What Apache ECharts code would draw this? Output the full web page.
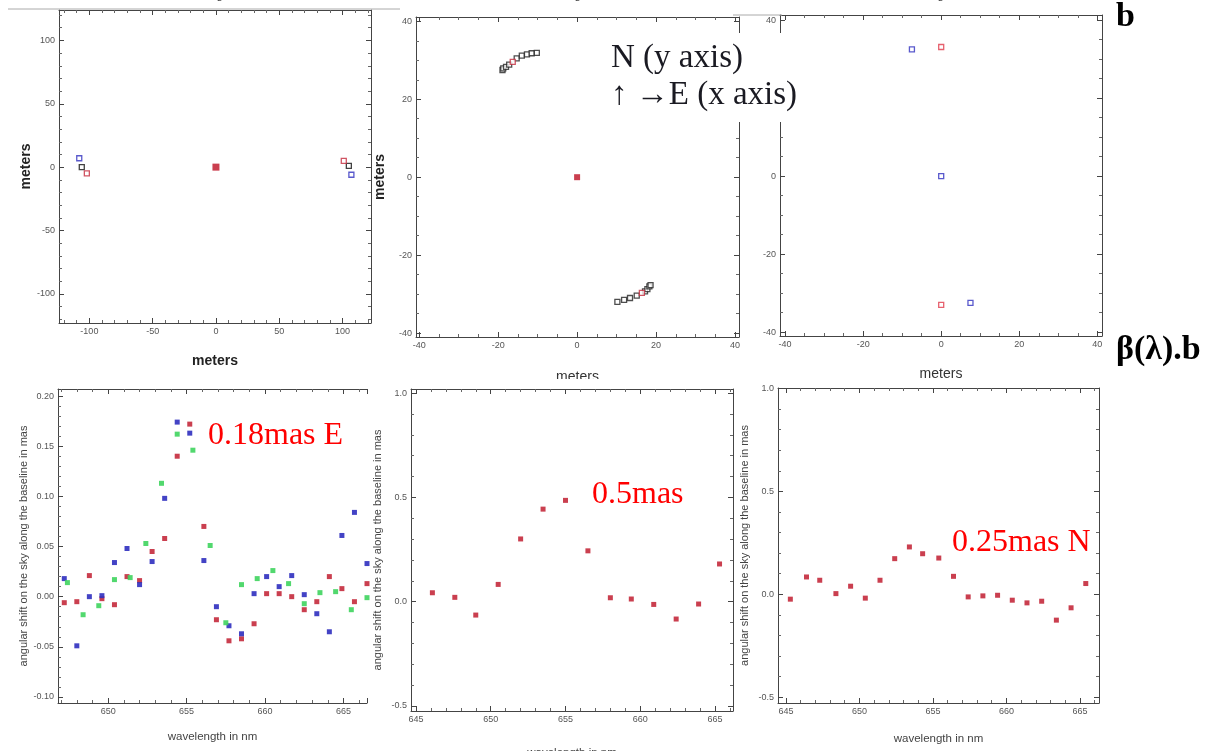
<!DOCTYPE html>
<html>
<head>
<meta charset="utf-8">
<script src="https://cdn.jsdelivr.net/npm/echarts@6/dist/echarts.min.js"></script>
<style>
  html, body { margin: 0; padding: 0; background: #fff; }
  #chart { width: 1210px; height: 751px; }
</style>
</head>
<body>
<div id="chart"></div>
<script>
// top row: baseline positions in meters
const p1Black = [[-106, 0], [105, 1]];
const p1Red = [[-102, -5], [101, 5]];
const p1Blue = [[-108, 7], [107, -6]];
const p1Center = [[0, 0]];

const p2Black = [[-18.9, 27.5], [-18.7, 27.9], [-18.0, 28.3], [-17.2, 28.9], [-15.3, 30.5], [-14.0, 31.2], [-12.7, 31.5], [-11.5, 31.8], [-10.2, 31.9],
  [10.2, -32.0], [11.9, -31.5], [13.4, -31.0], [15.1, -30.4], [17.2, -29.3], [17.8, -28.7], [18.3, -28.0], [18.6, -27.7]];
const p2Red = [[-16.3, 29.6], [16.4, -29.7]];
const p2Center = [[0, 0]];

const p3Red = [[0, 33.1], [0, -33.0]];
const p3Blue = [[-7.5, 32.5], [0, 0], [7.5, -32.5]];

// bottom row: angular shift vs wavelength
const p4Wave = [647.2, 648.0, 648.8, 649.6, 650.4, 651.2, 652.0, 652.8, 653.6, 654.4, 655.2, 656.1, 656.9,
  657.7, 658.5, 659.3, 660.1, 660.9, 661.7, 662.5, 663.3, 664.1, 664.9, 665.7, 666.5];
const p4Red = [-0.006, -0.005, 0.021, -0.002, -0.008, 0.020, 0.016, 0.045, 0.058, 0.140, 0.172, 0.070, -0.023,
  -0.044, -0.042, -0.027, 0.003, 0.003, 0.000, -0.013, -0.005, 0.020, 0.008, -0.005, 0.013];
const p4Blue = [0.018, -0.049, 0.000, 0.001, 0.034, 0.048, 0.012, 0.035, 0.098, 0.174, 0.163, 0.036, -0.010,
  -0.029, -0.037, 0.003, 0.020, 0.010, 0.021, 0.002, -0.017, -0.035, 0.061, 0.084, 0.033];
const p4GreenWave = [647.4, 648.4, 649.4, 650.4, 651.4, 652.4, 653.4, 654.4, 655.4, 656.5, 657.5, 658.5, 659.5,
  660.5, 661.5, 662.5, 663.5, 664.5, 665.5, 666.5];
const p4Green = [0.014, -0.018, -0.009, 0.017, 0.019, 0.053, 0.113, 0.162, 0.146, 0.051, -0.026, 0.012, 0.018,
  0.026, 0.013, -0.007, 0.004, 0.005, -0.013, -0.001];

const p5Wave = [646.1, 647.6, 649.0, 650.5, 652.0, 653.5, 655.0, 656.5, 658.0, 659.4, 660.9, 662.4, 663.9, 665.3];
const p5Shift = [0.043, 0.021, -0.064, 0.083, 0.301, 0.444, 0.486, 0.244, 0.019, 0.013, -0.013, -0.083, -0.011, 0.181];

const p6Wave = [645.3, 646.4, 647.3, 648.4, 649.4, 650.4, 651.4, 652.4, 653.4, 654.3, 655.4, 656.4, 657.4, 658.4,
  659.4, 660.4, 661.4, 662.4, 663.4, 664.4, 665.4];
const p6Shift = [-0.024, 0.084, 0.068, 0.003, 0.039, -0.019, 0.068, 0.173, 0.230, 0.197, 0.176, 0.087, -0.013, -0.008,
  -0.005, -0.029, -0.042, -0.034, -0.126, -0.066, 0.052];

const RED = '#c42a3c';
const BLUE = '#2f2fbf';
const GREEN = '#3fd45e';
const SANS = 'Liberation Sans';
const SERIF = 'Liberation Serif';

const zip = (xs, ys) => xs.map((x, i) => [x, ys[i]]);

const grids = [
  { left: 59, top: 10, width: 312, height: 313 },
  { left: 416, top: 17, width: 323, height: 320 },
  { left: 780, top: 15, width: 322, height: 321 },
  { left: 58, top: 389, width: 309, height: 314 },
  { left: 411, top: 389, width: 322, height: 322 },
  { left: 778, top: 388, width: 321, height: 315 }
];

const xAxes = [];
const yAxes = [];

function baseAxis(g, min, max, pos, minor, fmt, labelShow) {
  return {
    type: 'value', gridIndex: g, min: min, max: max, position: pos,
    splitNumber: 5,
    axisLine: { show: true, onZero: false, lineStyle: { color: '#444', width: 1 } },
    axisTick: { show: true, inside: true, length: 5, lineStyle: { color: '#444' } },
    minorTick: { show: true, splitNumber: minor, length: 3, lineStyle: { color: '#666' } },
    splitLine: { show: false },
    axisLabel: {
      show: labelShow, fontSize: 9, color: '#555', fontFamily: SANS, margin: 4,
      showMinLabel: false, showMaxLabel: false, formatter: fmt
    }
  };
}

// every panel is a Mathematica-like frame: labelled bottom/left axes plus tick-only top/right
function addFrame(g, xr, yr, o) {
  const xb = baseAxis(g, xr[0], xr[1], 'bottom', o.xMinor, o.xFmt, true);
  const xt = baseAxis(g, xr[0], xr[1], 'top', o.xMinor, o.xFmt, false);
  if (o.xSplit) { xb.splitNumber = o.xSplit; xt.splitNumber = o.xSplit; }
  xb.name = o.xName;
  xb.nameLocation = 'middle';
  xb.nameGap = o.xGap;
  xb.nameTextStyle = o.xNameStyle;
  const yl = baseAxis(g, yr[0], yr[1], 'left', o.yMinor, o.yFmt, true);
  const yrAx = baseAxis(g, yr[0], yr[1], 'right', o.yMinor, o.yFmt, false);
  if (o.ySplit) { yl.splitNumber = o.ySplit; yrAx.splitNumber = o.ySplit; }
  yl.name = o.yName;
  yl.nameLocation = 'middle';
  yl.nameGap = o.yGap;
  yl.nameTextStyle = o.yNameStyle;
  if (o.noRight) {
    yrAx.axisLine.show = false;
    yrAx.axisTick.show = false;
    yrAx.minorTick.show = false;
  }
  const xi = xAxes.length;
  const yi = yAxes.length;
  xAxes.push(xb, xt);
  yAxes.push(yl, yrAx);
  return { xi: xi, yi: yi };
}

const intFmt = v => String(Math.round(v));
const metersBold = { fontSize: 14, fontWeight: 'bold', color: '#222', fontFamily: SANS };
const metersPlain = { fontSize: 14, color: '#333', fontFamily: SANS };
const waveStyle = { fontSize: 11.5, color: '#444', fontFamily: SANS };
const shiftStyle = { fontSize: 11, color: '#444', fontFamily: SANS };
const shiftName = 'angular shift on the sky along the baseline in mas';

const f1 = addFrame(0, [-124, 122.5], [-123, 124], {
  xMinor: 5, yMinor: 5, xFmt: intFmt, yFmt: intFmt,
  xName: 'meters', xGap: 31, xNameStyle: metersBold,
  yName: 'meters', yGap: 26, yNameStyle: metersBold
});
const f2 = addFrame(1, [-40.8, 41], [-41, 41.1], {
  xMinor: 4, yMinor: 4, xFmt: intFmt, yFmt: intFmt,
  xName: 'meters', xGap: 33, xNameStyle: metersPlain,
  yName: 'meters', yGap: 29, yNameStyle: metersBold
});
const f3 = addFrame(2, [-41.3, 41.2], [-41, 41.3], {
  xMinor: 4, yMinor: 4, xFmt: intFmt, yFmt: intFmt,
  xName: 'meters', xGap: 31, xNameStyle: metersPlain,
  yName: '', yGap: 30, yNameStyle: metersPlain
});
const f4 = addFrame(3, [646.8, 666.5], [-0.106, 0.207], {
  xMinor: 5, yMinor: 5, xFmt: intFmt, yFmt: v => v.toFixed(2), xSplit: 4,
  xName: 'wavelength in nm', xGap: 28, xNameStyle: waveStyle,
  yName: shiftName, yGap: 26, yNameStyle: shiftStyle, noRight: true
});
const f5 = addFrame(4, [644.67, 666.2], [-0.524, 1.02], {
  xMinor: 5, yMinor: 5, xFmt: intFmt, yFmt: v => v.toFixed(1), ySplit: 3,
  xName: 'wavelength in nm', xGap: 36, xNameStyle: waveStyle,
  yName: shiftName, yGap: 28, yNameStyle: shiftStyle
});
const f6 = addFrame(5, [644.46, 666.3], [-0.529, 1.003], {
  xMinor: 5, yMinor: 5, xFmt: intFmt, yFmt: v => v.toFixed(1), ySplit: 3,
  xName: 'wavelength in nm', xGap: 30, xNameStyle: waveStyle,
  yName: shiftName, yGap: 28, yNameStyle: shiftStyle
});

function openSquares(f, data, color, size) {
  return {
    type: 'scatter', xAxisIndex: f.xi, yAxisIndex: f.yi, data: data,
    symbol: 'rect', symbolSize: size || 5, silent: true,
    itemStyle: { color: '#fff', borderColor: color, borderWidth: 1.3 }
  };
}

function filledSquares(f, data, color, size) {
  return {
    type: 'scatter', xAxisIndex: f.xi, yAxisIndex: f.yi, data: data,
    symbol: 'rect', symbolSize: size, silent: true, clip: true,
    itemStyle: { color: color, opacity: 0.9 }
  };
}

const series = [
  openSquares(f1, p1Black, '#111'),
  openSquares(f1, p1Red, RED),
  openSquares(f1, p1Blue, BLUE),
  filledSquares(f1, p1Center, RED, 7),
  openSquares(f2, p2Black, '#222'),
  openSquares(f2, p2Red, RED),
  filledSquares(f2, p2Center, RED, 6),
  openSquares(f3, p3Red, '#e03a4a'),
  openSquares(f3, p3Blue, BLUE),
  filledSquares(f4, zip(p4Wave, p4Red), RED, 5),
  filledSquares(f4, zip(p4Wave, p4Blue), BLUE, 5),
  filledSquares(f4, zip(p4GreenWave, p4Green), GREEN, 5),
  filledSquares(f5, zip(p5Wave, p5Shift), RED, 5),
  filledSquares(f6, zip(p6Wave, p6Shift), RED, 5)
];

function label(text, x, y, size, color, family, weight, align) {
  return {
    type: 'text', z: 101, silent: true,
    style: {
      text: text, x: x, y: y, fill: color, fontSize: size, fontFamily: family,
      fontWeight: weight || 'normal', align: align || 'left', verticalAlign: 'middle'
    }
  };
}

const graphics = [
  { type: 'line', z: 99, silent: true, shape: { x1: 8, y1: 9, x2: 400, y2: 9 }, style: { stroke: '#aaa', lineWidth: 1 } },
  { type: 'line', z: 99, silent: true, shape: { x1: 733, y1: 15, x2: 782, y2: 15 }, style: { stroke: '#aaa', lineWidth: 1 } },
  label('wavelength in nm', 219, -4, 11.5, '#444', SANS, 'normal', 'center'),
  label('wavelength in nm', 577, -4, 11.5, '#444', SANS, 'normal', 'center'),
  label('wavelength in nm', 940, -4, 11.5, '#444', SANS, 'normal', 'center'),
  { type: 'rect', z: 100, silent: true, shape: { x: 600, y: 33, width: 210, height: 89 }, style: { fill: '#fff' } },
  { type: 'rect', z: 100, silent: true, shape: { x: 380, y: 379, width: 360, height: 7 }, style: { fill: '#fff' } },
  label('N (y axis)', 611, 58, 33, '#1a1a22', SERIF),
  label('\u2191 \u2192E (x axis)', 611, 95, 33, '#1a1a22', SERIF),
  label('b', 1116, 17, 34, '#000', SERIF, 'bold'),
  label('\u03b2(\u03bb).b', 1116, 350, 34, '#000', SERIF, 'bold'),
  label('0.18mas E', 208, 436, 32, '#f00', SERIF),
  label('0.5mas', 592, 495, 32, '#f00', SERIF),
  label('0.25mas N', 952, 543, 32, '#f00', SERIF)
];

const chart = echarts.init(document.getElementById('chart'));
chart.setOption({
  animation: false,
  backgroundColor: '#fff',
  grid: grids.map(g => Object.assign({ show: false, outerBoundsMode: 'none', containLabel: false }, g)),
  xAxis: xAxes,
  yAxis: yAxes,
  series: series,
  graphic: graphics
});
</script>
</body>
</html>
